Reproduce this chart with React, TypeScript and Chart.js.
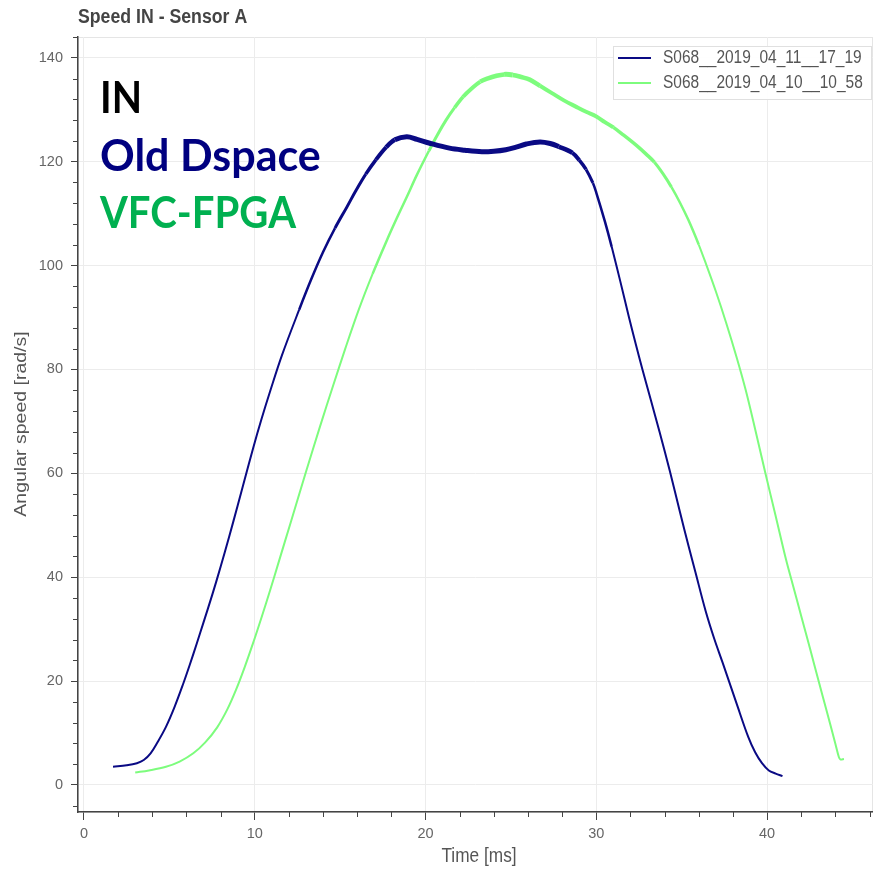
import { useEffect, useRef } from 'react';
import { Chart, registerables } from 'chart.js';

Chart.register(...registerables);

const W = 873;
const H = 870;

const chartTitle = 'Speed IN - Sensor A';
const xAxisTitle = 'Time [ms]';
const yAxisTitle = 'Angular speed [rad/s]';
const seriesLabels = ['S068__2019_04_11__17_19', 'S068__2019_04_10__10_58'];
const seriesColors = ['#0a0a84', '#7dfc7d'];
const annotationLines = ['IN', 'Old Dspace', 'VFC-FPGA'];
const annotationColors = ['#000000', '#000080', '#00b050'];

const xTickValues = [0, 10, 20, 30, 40];
const yTickValues = [0, 20, 40, 60, 80, 100, 120, 140];
const xMinorStep = 2;
const yMinorStep = 4;
const xRange = [-0.35, 46.2];
const yRange = [-5.2, 144];

const blueT = [1.7, 2.5, 3.1, 3.5, 3.9, 4.3, 4.8, 5.3, 5.8, 6.2, 6.6, 7.0, 7.5, 8.0, 8.5, 9.0, 9.4, 9.9, 10.4, 10.9, 11.6, 12.6, 13.3, 14.0, 14.7, 15.4, 15.9, 16.5, 17.1, 17.7, 18.2, 18.9, 19.5, 20.2, 21.4, 22.3, 23.3, 24.0, 24.7, 25.3, 25.9, 26.7, 27.3, 27.8, 28.6, 29.0, 29.4, 29.8, 30.0, 30.5, 30.9, 31.4, 31.9, 32.3, 32.7, 33.2, 33.7, 34.3, 34.9, 35.4, 35.8, 36.4, 36.9, 37.4, 38.2, 38.9, 39.3, 39.7, 40.1, 40.5, 40.9];
const blueV = [3.5, 3.8, 4.2, 4.8, 6.1, 8.2, 11.2, 15.0, 19.4, 23.2, 27.2, 31.3, 36.5, 42.0, 47.8, 53.8, 58.7, 64.8, 70.5, 75.8, 82.8, 91.5, 97.3, 102.6, 107.2, 111.3, 114.3, 117.6, 120.4, 122.8, 124.2, 124.8, 124.3, 123.6, 122.6, 122.2, 121.9, 122.0, 122.3, 122.8, 123.4, 123.8, 123.5, 122.9, 121.7, 120.3, 118.5, 115.9, 114, 108.5, 103.6, 97, 90.2, 85, 80, 74, 68, 60.5, 52.5, 46, 41, 33.5, 28.2, 23.5, 15.8, 9.2, 6.3, 4.2, 2.8, 2.2, 1.7];

const greenT = [3.0, 3.8, 4.8, 5.6, 6.4, 7.1, 7.8, 8.4, 8.9, 9.4, 9.9, 10.4, 10.9, 11.4, 12.1, 13.0, 13.8, 14.6, 15.3, 16.1, 16.9, 17.7, 18.3, 18.9, 19.5, 20.2, 20.7, 21.2, 21.7, 22.2, 22.7, 23.2, 23.7, 24.1, 24.6, 25.1, 25.6, 26.1, 26.7, 27.4, 28.1, 28.8, 29.4, 30.0, 30.5, 31.0, 31.6, 32.1, 32.5, 32.9, 33.4, 33.9, 34.4, 34.9, 35.4, 36.0, 36.4, 37.0, 37.6, 38.2, 38.75, 39.3, 39.9, 40.5, 41.1, 41.5, 42.0, 42.5, 43.0, 43.5, 44.0, 44.2, 44.3, 44.5];
const greenV = [2.4, 2.8, 3.5, 4.5, 6.1, 8.2, 11.1, 14.6, 18.3, 22.6, 27.3, 32.3, 37.5, 42.9, 50.5, 60.3, 68.8, 77.0, 84.0, 91.6, 98.4, 104.6, 109.0, 113.2, 117.5, 122.1, 125.2, 128, 130.4, 132.5, 134.1, 135.4, 136.1, 136.5, 136.8, 136.7, 136.3, 135.8, 134.6, 133.2, 131.8, 130.6, 129.6, 128.7, 127.6, 126.6, 125.1, 123.8, 122.7, 121.5, 119.9, 117.7, 115.1, 112.1, 108.7, 104.0, 100.5, 95, 89, 82.5, 76, 68.5, 60, 51.8, 43.5, 38.6, 32.5, 26.4, 20.2, 14.1, 7.9, 5.4, 4.9, 5.0];

const toPoints = (t: number[], v: number[]) => t.map((x, i) => ({ x, y: v[i] }));

const AXIS_COLOR = '#444444';
const TICK_TEXT = '#666666';
const GRID_COLOR = '#ececec';
const TEXT_FONT = "'Liberation Sans', Arial, Helvetica, sans-serif";
const SQUEEZE = 0.885;

function noisyWidth(values: number[], k: number) {
  return (ctx: any) => {
    const p0 = ctx.p0, p1 = ctx.p1;
    const dx = p1.x - p0.x, dy = p1.y - p0.y;
    const len = Math.hypot(dx, dy) || 1;
    const cos = Math.abs(dx) / len;
    const v = (values[ctx.p0DataIndex] + values[ctx.p1DataIndex]) / 2;
    const w = 1.8 + k * Math.pow(Math.max(v, 0) / 137, 3) * cos;
    return Math.round(w * 2) / 2;
  };
}

function squeezedText(ctx: CanvasRenderingContext2D, text: string, x: number, y: number, rotate = false) {
  ctx.save();
  ctx.translate(x, y);
  ctx.scale(SQUEEZE, 1);
  if (rotate) ctx.rotate(-Math.PI / 2);
  ctx.fillText(text, 0, 0);
  ctx.restore();
}

const decorPlugin = {
  id: 'decor',
  beforeDraw(chart: any) {
    const { ctx, chartArea } = chart;
    ctx.save();
    ctx.strokeStyle = '#e5e5e5';
    ctx.lineWidth = 1;
    ctx.strokeRect(chartArea.left + 0.5, chartArea.top + 0.5, chartArea.right - chartArea.left - 1, chartArea.bottom - chartArea.top);
    ctx.restore();
  },
  afterDraw(chart: any) {
    const { ctx, chartArea } = chart;
    const xs = chart.scales.x;
    const ys = chart.scales.y;
    ctx.save();
    // minor ticks
    ctx.strokeStyle = AXIS_COLOR;
    ctx.lineWidth = 1;
    ctx.beginPath();
    for (let v = Math.ceil(xRange[0] / xMinorStep) * xMinorStep; v <= xRange[1]; v += xMinorStep) {
      if (xTickValues.includes(v)) continue;
      const px = Math.round(xs.getPixelForValue(v)) + 0.5;
      ctx.moveTo(px, chartArea.bottom);
      ctx.lineTo(px, chartArea.bottom + 5);
    }
    for (let v = Math.ceil(yRange[0] / yMinorStep) * yMinorStep; v <= yRange[1]; v += yMinorStep) {
      if (yTickValues.includes(v)) continue;
      const py = Math.round(ys.getPixelForValue(v)) + 0.5;
      ctx.moveTo(chartArea.left, py);
      ctx.lineTo(chartArea.left - 5, py);
    }
    ctx.stroke();

    // title
    ctx.fillStyle = '#444444';
    ctx.font = `bold 20px ${TEXT_FONT}`;
    ctx.textAlign = 'left';
    ctx.textBaseline = 'alphabetic';
    squeezedText(ctx, chartTitle, chartArea.left, 23);

    // axis titles
    ctx.fillStyle = '#555555';
    ctx.font = `19.5px ${TEXT_FONT}`;
    ctx.textAlign = 'center';
    ctx.textBaseline = 'alphabetic';
    squeezedText(ctx, xAxisTitle, 479, 862);
    squeezedText(ctx, yAxisTitle, 25.5, 424, true);

    // annotation
    ctx.textAlign = 'left';
    ctx.textBaseline = 'alphabetic';
    const baselines = [113, 171, 228];
    const maxWidths = [42, 222, 196];
    annotationLines.forEach((t, i) => {
      ctx.fillStyle = annotationColors[i];
      ctx.font = `bold 43px Lato, 'Open Sans', sans-serif`;
      ctx.fillText(t, 100, baselines[i], maxWidths[i]);
    });

    // legend
    const lx = 613.5, ly = 46.5, lw = 258, lh = 53;
    ctx.fillStyle = 'rgba(255,255,255,0.95)';
    ctx.fillRect(lx, ly, lw, lh);
    ctx.strokeStyle = '#e0e0e0';
    ctx.lineWidth = 1;
    ctx.strokeRect(lx, ly, lw, lh);
    seriesLabels.forEach((label, i) => {
      const cy = 58 + i * 25;
      ctx.strokeStyle = seriesColors[i];
      ctx.lineWidth = 2;
      ctx.beginPath();
      ctx.moveTo(618, cy);
      ctx.lineTo(651, cy);
      ctx.stroke();
      ctx.fillStyle = '#555555';
      ctx.font = `17.5px ${TEXT_FONT}`;
      ctx.textAlign = 'left';
      ctx.textBaseline = 'middle';
      squeezedText(ctx, label, 663, cy + 0.5);
    });
    ctx.restore();
  },
};

export default function App() {
  const ref = useRef<HTMLCanvasElement | null>(null);
  useEffect(() => {
    const canvas = ref.current;
    if (!canvas) return;
    const chart = new Chart(canvas, {
      type: 'line',
      data: {
        datasets: [
          {
            label: seriesLabels[0],
            data: toPoints(blueT, blueV),
            borderColor: seriesColors[0],
            borderWidth: 2,
            pointRadius: 0,
            tension: 0.35,
            fill: false,
            segment: { borderWidth: noisyWidth(blueV, 4.5) },
          },
          {
            label: seriesLabels[1],
            data: toPoints(greenT, greenV),
            borderColor: seriesColors[1],
            borderWidth: 2,
            pointRadius: 0,
            tension: 0.35,
            fill: false,
            segment: { borderWidth: noisyWidth(greenV, 3) },
          },
        ],
      },
      options: {
        responsive: false,
        animation: false,
        devicePixelRatio: 1,
        layout: { padding: { top: 37, left: 0, right: 0, bottom: 0 } },
        plugins: {
          legend: { display: false },
          title: { display: false },
          tooltip: { enabled: false },
        },
        scales: {
          x: {
            type: 'linear',
            min: xRange[0],
            max: xRange[1],
            afterBuildTicks: (scale: any) => {
              scale.ticks = xTickValues.map((value) => ({ value }));
            },
            afterFit: (scale: any) => {
              scale.height = 58;
            },
            grid: {
              color: GRID_COLOR,
              lineWidth: 1,
              drawTicks: true,
              tickLength: 8,
              tickColor: AXIS_COLOR,
            },
            border: { color: AXIS_COLOR, width: 1.5 },
            ticks: {
              color: TICK_TEXT,
              font: { family: TEXT_FONT, size: 14.5 },
              padding: 5,
              maxRotation: 0,
              autoSkip: false,
            },
          },
          y: {
            type: 'linear',
            min: yRange[0],
            max: yRange[1],
            afterBuildTicks: (scale: any) => {
              scale.ticks = yTickValues.map((value) => ({ value }));
            },
            afterFit: (scale: any) => {
              scale.width = 78;
            },
            grid: {
              color: GRID_COLOR,
              lineWidth: 1,
              drawTicks: true,
              tickLength: 7,
              tickColor: AXIS_COLOR,
            },
            border: { color: AXIS_COLOR, width: 1.5 },
            ticks: {
              color: TICK_TEXT,
              font: { family: TEXT_FONT, size: 14.5 },
              padding: 8,
              autoSkip: false,
            },
          },
        },
      },
      plugins: [decorPlugin],
    } as any);
    return () => chart.destroy();
  }, []);
  return (
    <div style={{ position: 'absolute', left: 0, top: 0, width: W, height: H, background: '#ffffff' }}>
      <canvas ref={ref} width={W} height={H} style={{ display: 'block', width: W, height: H }} />
    </div>
  );
}
